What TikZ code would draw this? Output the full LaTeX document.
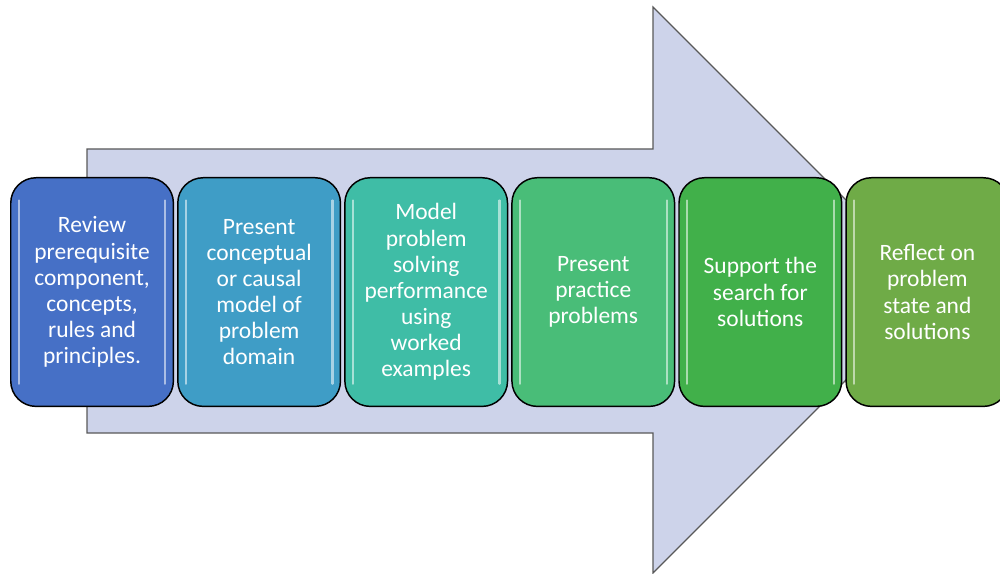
\documentclass[tikz,border=0pt]{standalone}
\usepackage{fontspec}
\setmainfont{Carlito}
\usetikzlibrary{positioning}

\definecolor{arrowfill}{HTML}{CDD3EA}
\definecolor{arrowline}{HTML}{595959}
\definecolor{stepA}{HTML}{4670C6}
\definecolor{stepB}{HTML}{3F9DC6}
\definecolor{stepC}{HTML}{3FBDA6}
\definecolor{stepD}{HTML}{49BD78}
\definecolor{stepE}{HTML}{41B04A}
\definecolor{stepF}{HTML}{6FAB47}

\begin{document}
\begin{tikzpicture}[
		x=0.75pt, y=-0.75pt,
		node distance=2.2pt,
		stepbox/.style={draw=black, line width=1.1pt, rounded corners=19pt,
			minimum width=122pt, minimum height=171.5pt, inner sep=0pt,
			text=white, align=center, font=\fontsize{17.6}{19.6}\selectfont,
			path picture={
				\draw[white, opacity=0.55, line width=1.6pt, line cap=round]
					([xshift=6pt,yshift=-17pt]path picture bounding box.north west) --
					([xshift=6pt,yshift=17pt]path picture bounding box.south west);
				\draw[white, opacity=0.55, line width=1.6pt, line cap=round]
					([xshift=-6pt,yshift=-17pt]path picture bounding box.north east) --
					([xshift=-6pt,yshift=17pt]path picture bounding box.south east);
			}}
		]
		\useasboundingbox (0,0) rectangle (1000,574);

		% big arrow behind the steps
		\coordinate (tail top) at (87,149);
		\coordinate (tail bottom) at (87,433);
		\filldraw[fill=arrowfill, draw=arrowline, line width=0.9pt]
			(tail top) -- (653,149) -- (653,7) -- (936,290) -- (653,573)
			-- (653,433) -- (tail bottom) -- cycle;

		% the steps
		\node[stepbox, fill=stepA, anchor=north west] (review) at (10,177)
			{Review\\prerequisite\\component,\\concepts,\\rules and\\principles.};
		\node[stepbox, fill=stepB, right=of review] (concept)
			{Present\\conceptual\\or causal\\model of\\problem\\domain};
		\node[stepbox, fill=stepC, right=of concept] (model)
			{Model\\problem\\solving\\performance\\using\\worked\\examples};
		\node[stepbox, fill=stepD, right=of model] (practice)
			{Present\\practice\\problems};
		\node[stepbox, fill=stepE, right=of practice] (search)
			{Support the\\search for\\solutions};
		\node[stepbox, fill=stepF, right=of search] (reflect)
			{Reflect on\\problem\\state and\\solutions};
\end{tikzpicture}
\end{document}
